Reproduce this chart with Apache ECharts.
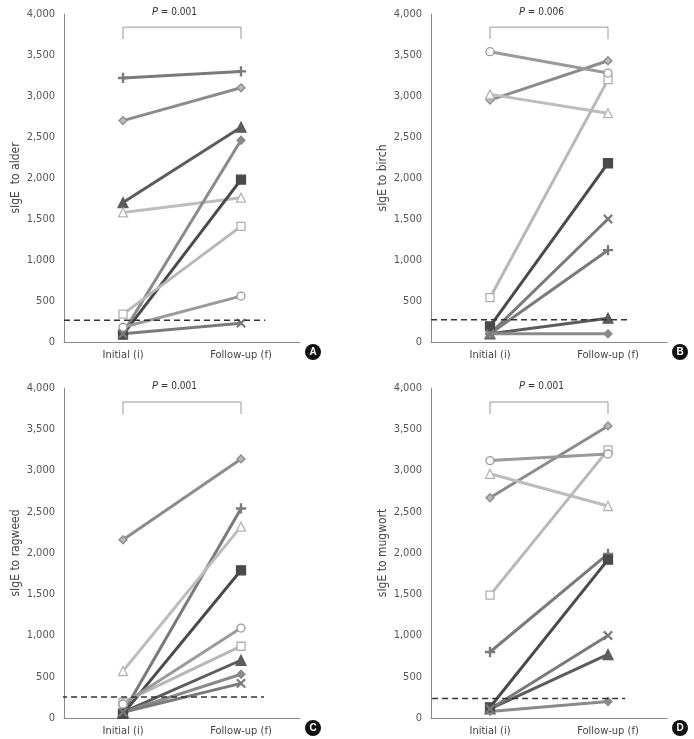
<!DOCTYPE html>
<html>
<head>
<meta charset="utf-8">
<script src="https://cdn.jsdelivr.net/npm/echarts@6/dist/echarts.min.js"></script>
<style>html,body{margin:0;padding:0;background:#fff}#c{width:694px;height:739px}</style>
</head>
<body>
<div id="c"></div>
<script>
// ---- data ----
const categories = ['Initial (i)', 'Follow-up (f)'];
const panelLetters = ['A', 'B', 'C', 'D'];
const yTitles = ['sIgE  to alder', 'sIgE to birch', 'sIgE to ragweed', 'sIgE to mugwort'];
const pValues = ['0.001', '0.006', '0.001', '0.001'];
const cutoffs = [265, 270, 255, 235];
// subjects order: plus, openDiamond, filledTriangle, openTriangle, filledDiamond, filledSquare, openSquare, openCircle, cross
const alderInitial  = [3220, 2700, 1700, 1580, 110, 90, 340, 180, 100];
const alderFollow   = [3300, 3100, 2620, 1760, 2460, 1980, 1410, 560, 230];
const birchInitial  = [100, 2950, 100, 3020, 100, 190, 540, 3540, 100];
const birchFollow   = [1120, 3430, 290, 2790, 100, 2180, 3200, 3280, 1500];
const ragweedInitial = [60, 2160, 70, 570, 70, 50, 190, 170, 70];
const ragweedFollow  = [2540, 3140, 700, 2320, 530, 1790, 870, 1090, 420];
const mugwortInitial = [800, 2670, 110, 2960, 80, 130, 1490, 3120, 110];
const mugwortFollow  = [1990, 3540, 770, 2570, 200, 1920, 3250, 3200, 1000];

// ---- styles ----
const PLUS = 'path://M4.4,0H5.6V4.4H10V5.6H5.6V10H4.4V5.6H0V4.4H4.4Z';
const CROSS = 'path://M0.8,0L5,4.2L9.2,0L10,0.8L5.8,5L10,9.2L9.2,10L5,5.8L0.8,10L0,9.2L4.2,5L0,0.8Z';
const subjStyles = [
  {line:'#7a7a7a', symbol:PLUS, size:9, fill:'#7a7a7a', border:'#7a7a7a'},
  {line:'#8c8c8c', symbol:'diamond', size:8, fill:'#b8b8b8', border:'#8c8c8c'},
  {line:'#5c5c5c', symbol:'triangle', size:10, fill:'#5c5c5c', border:'#5c5c5c'},
  {line:'#bdbdbd', symbol:'triangle', size:9, fill:'#ffffff', border:'#b5b5b5'},
  {line:'#8a8a8a', symbol:'diamond', size:8, fill:'#8a8a8a', border:'#8a8a8a'},
  {line:'#4a4a4a', symbol:'rect', size:9, fill:'#4a4a4a', border:'#4a4a4a'},
  {line:'#b8b8b8', symbol:'rect', size:8, fill:'#ffffff', border:'#b0b0b0'},
  {line:'#9a9a9a', symbol:'circle', size:8, fill:'#ffffff', border:'#9a9a9a'},
  {line:'#7a7a7a', symbol:CROSS, size:8, fill:'#7a7a7a', border:'#7a7a7a'}
];
const panels = [
  [alderInitial, alderFollow],
  [birchInitial, birchFollow],
  [ragweedInitial, ragweedFollow],
  [mugwortInitial, mugwortFollow]
];
const grids = [
  {left:64, top:14, width:236, height:328},
  {left:431, top:14, width:236, height:328},
  {left:64, top:388, width:236, height:330},
  {left:431, top:388, width:236, height:330}
];
const FONT = '"Liberation Sans Narrow", "DejaVu Sans Condensed", "Liberation Sans", sans-serif';
const xAxes = [], yAxes = [], series = [];
const dashStart = [0, 0, -0.05, -0.15];
const dashEnd = [3.41, 3.37, 3.39, 3.29];
grids.forEach((g, i) => {
  xAxes.push({
    type:'category', gridIndex:i, data:categories, boundaryGap:true,
    axisLine:{lineStyle:{color:'#8a8a8a', width:1}},
    axisTick:{alignWithLabel:true, length:4, lineStyle:{color:'#8a8a8a'}},
    axisLabel:{color:'#444', fontSize:11, fontFamily:FONT, margin:8}
  });
  xAxes.push({type:'value', gridIndex:i, min:0, max:4, show:false});
  yAxes.push({
    type:'value', gridIndex:i, min:0, max:4000, interval:500,
    name:yTitles[i], nameLocation:'middle', nameGap:42,
    nameTextStyle:{color:'#444', fontSize:12, fontFamily:FONT},
    axisLine:{show:true, lineStyle:{color:'#8a8a8a', width:1}},
    axisTick:{show:false},
    splitLine:{show:false},
    axisLabel:{color:'#555', fontSize:11, fontFamily:FONT, margin:9,
      formatter:v => v.toLocaleString('en-US')}
  });
  const [ini, fol] = panels[i];
  ini.forEach((v, k) => {
    const s = subjStyles[k];
    series.push({
      type:'line', xAxisIndex:2*i+1, yAxisIndex:i, z:3,
      data:[[1, v], [3, fol[k]]],
      symbol:s.symbol, symbolSize:s.size, showSymbol:true,
      lineStyle:{color:s.line, width:3},
      itemStyle:{color:s.fill, borderColor:s.border, borderWidth:1.3, opacity:1},
      animation:false, silent:true
    });
  });
  // cut-off line
  series.push({
    type:'line', xAxisIndex:2*i+1, yAxisIndex:i, z:4, clip:false,
    data:[[dashStart[i], cutoffs[i]], [dashEnd[i], cutoffs[i]]],
    symbol:'none', lineStyle:{color:'#333', width:1.5, type:[6,4]}, animation:false, silent:true
  });
  // P bracket
  const top = i < 2 ? 3840 : 3830, low = i < 2 ? 3695 : 3685;
  series.push({
    type:'line', xAxisIndex:2*i+1, yAxisIndex:i, z:2,
    data:[[1, low], [1, top], [3, top], [3, low]],
    symbol:'none', lineStyle:{color:'#999', width:1}, animation:false, silent:true
  });
});

const graphics = [];
grids.forEach((g, i) => {
  graphics.push({
    type:'text', left:g.left + 118 - 30, top:g.top - 7,
    style:{rich:{i:{fontStyle:'italic', fontSize:11, fill:'#333', fontFamily:FONT}, n:{fontSize:10, fill:'#333', fontFamily:FONT}},
      text:'{i|P}{n| = ' + pValues[i] + '}'}
  });
  const cx = g.left + g.width + 13, cy = g.top + g.height + 10;
  graphics.push({type:'circle', shape:{cx:cx, cy:cy, r:8}, style:{fill:'#111'}});
  graphics.push({type:'text', x:cx, y:cy, style:{text:panelLetters[i], fill:'#fff', fontSize:10, fontWeight:'bold', fontFamily:'"Liberation Sans", Arial, sans-serif', align:'center', verticalAlign:'middle'}});
});

const chart = echarts.init(document.getElementById('c'), null, {renderer:'canvas'});
chart.setOption({
  animation:false,
  grid:grids,
  xAxis:xAxes,
  yAxis:yAxes,
  series:series,
  graphic:graphics
});
</script>
</body>
</html>
